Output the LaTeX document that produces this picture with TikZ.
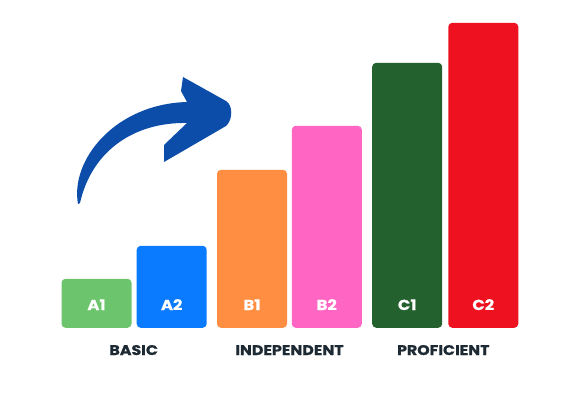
\documentclass[tikz,border=0pt]{standalone}
\usepackage{fontspec}
\setmainfont{Poppins}
\newfontfamily\lblfont{Poppins}[FakeStretch=1.13, FakeBold=0.6]
\definecolor{arrowblue}{HTML}{0B4DA8}
\definecolor{cA1}{HTML}{6CC56C}
\definecolor{cA2}{HTML}{0A7BFF}
\definecolor{cB1}{HTML}{FF8E42}
\definecolor{cB2}{HTML}{FF66C4}
\definecolor{cC1}{HTML}{23612F}
\definecolor{cC2}{HTML}{EE1120}
\definecolor{lvl}{HTML}{1E2A33}
\begin{document}
\begin{tikzpicture}[x=1pt,y=-1pt,
  bar/.style={rectangle, rounded corners=4pt, inner sep=0pt, minimum width=70pt, anchor=south, draw=none},
  bartext/.style={text=white, font=\lblfont\bfseries\fontsize{14.5}{16}\selectfont, anchor=base, inner sep=0pt},
  lvltext/.style={text=lvl, font=\lblfont\bfseries\fontsize{14}{16}\selectfont, anchor=base, inner sep=0pt}]
\fill[white] (0,0) rectangle (566,396);
\useasboundingbox (0,0) rectangle (566,396);
% bars
\node[bar, fill=cA1, minimum height=49pt] (a1) at (96.5,328) {};
\node[bar, fill=cA2, minimum height=82pt] (a2) at (171.7,328) {};
\node[bar, fill=cB1, minimum height=158pt] (b1) at (252,328) {};
\node[bar, fill=cB2, minimum height=202pt] (b2) at (326.8,328) {};
\node[bar, fill=cC1, minimum height=265pt] (c1) at (407.2,328) {};
\node[bar, fill=cC2, minimum height=305pt] (c2) at (483.3,328) {};
% bar labels
\node[bartext] (ta1) at ([yshift=18pt]a1.south) {A1};
\node[bartext] (ta2) at ([yshift=18pt]a2.south) {A2};
\node[bartext] (tb1) at ([yshift=18pt]b1.south) {B1};
\node[bartext] (tb2) at ([yshift=18pt]b2.south) {B2};
\node[bartext] (tc1) at ([yshift=18pt]c1.south) {C1};
\node[bartext] (tc2) at ([yshift=18pt]c2.south) {C2};
% level labels
\node[lvltext] (basic) at (133.7,355) {BASIC};
\node[lvltext] (indep) at (289.5,355) {INDEPENDENT};
\node[lvltext] (prof) at (443.3,355) {PROFICIENT};
% curved arrow
\fill[arrowblue] (78,204) .. controls (70,160) and (115,104) .. (187,102)
  -- (181,91) -- (183,77) -- (226,101)
  .. controls (233,105) and (233,120) .. (226,126)
  -- (164,162) -- (164,145) -- (187,123)
  .. controls (135,122) and (92,150) .. (80,203) -- cycle;
\end{tikzpicture}
\end{document}
